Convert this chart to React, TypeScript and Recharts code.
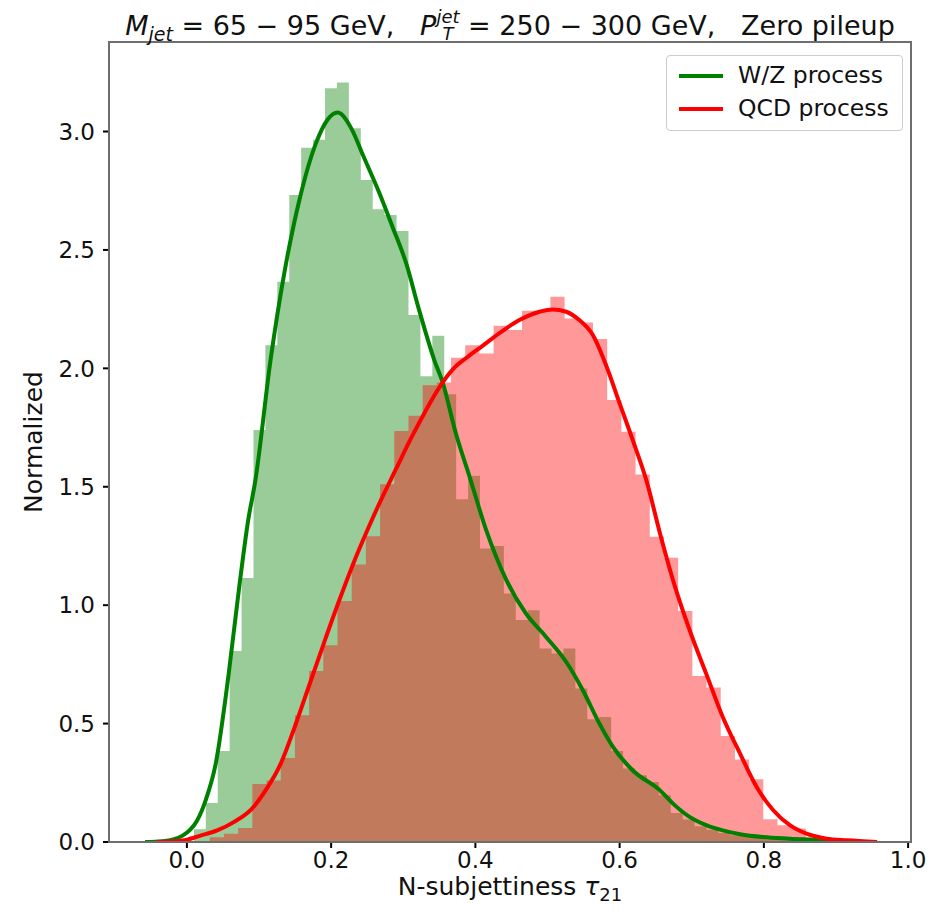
import React from "react";
import { ComposedChart, Area, Line, XAxis, YAxis } from "recharts";

// axis ticks
const xTicks = [0, 0.2, 0.4, 0.6, 0.8, 1.0];
const yTicks = [0, 0.5, 1.0, 1.5, 2.0, 2.5, 3.0];

// W/Z histogram (50 bins)
const wzBinStart = 0.0097;
const wzBinWidth = 0.01653;
const wzHist = [
  0.054, 0.165, 0.384, 0.807, 1.115, 1.74, 2.098, 2.366, 2.732, 2.932,
  2.965, 3.183, 3.207, 3.014, 2.795, 2.672, 2.648, 2.58, 2.225, 1.967,
  2.138, 1.891, 1.447, 1.546, 1.239, 1.25, 1.049, 0.937, 0.979, 0.817,
  0.796, 0.817, 0.648, 0.518, 0.528, 0.384, 0.31, 0.282, 0.253, 0.197,
  0.122, 0.095, 0.066, 0.052, 0.038, 0.028, 0.021, 0.018, 0.012, 0.008,
];

// QCD histogram (44 bins)
const qcdBinStart = 0.0317;
const qcdBinWidth = 0.01968;
const qcdHist = [
  0.02, 0.035, 0.059, 0.245, 0.26, 0.355, 0.535, 0.722, 0.831, 1.018,
  1.172, 1.291, 1.511, 1.735, 1.8, 1.929, 1.94, 2.045, 2.098, 2.063,
  2.18, 2.162, 2.243, 2.243, 2.302, 2.211, 2.194, 2.124, 1.866, 1.732,
  1.552, 1.289, 1.2, 0.975, 0.701, 0.652, 0.448, 0.348, 0.265, 0.096,
  0.071, 0.057, 0.016, 0.005,
];

// KDE curves
const wzKdeX = [
  -0.058, -0.04, -0.02, -0.006, 0.004, 0.014, 0.026, 0.04, 0.058, 0.072,
  0.085, 0.095, 0.116, 0.135, 0.156, 0.179, 0.195, 0.209, 0.229, 0.243,
  0.267, 0.285, 0.304, 0.322, 0.343, 0.355, 0.373, 0.392, 0.415, 0.443,
  0.47, 0.498, 0.526, 0.549, 0.572, 0.591, 0.618, 0.656, 0.674, 0.697,
  0.72, 0.743, 0.767, 0.799, 0.836, 0.882, 0.91,
];
const wzKdeY = [
  0, 0.002, 0.01, 0.027, 0.05, 0.09, 0.176, 0.331, 0.711, 1.063,
  1.359, 1.528, 2.035, 2.401, 2.711, 2.951, 3.05, 3.08, 3.007, 2.908,
  2.739, 2.598, 2.444, 2.246, 2.035, 1.937, 1.725, 1.542, 1.317, 1.106,
  0.965, 0.866, 0.76, 0.641, 0.5, 0.401, 0.303, 0.218, 0.162, 0.106,
  0.071, 0.049, 0.033, 0.021, 0.014, 0.007, 0,
];
const qcdKdeX = [
  -0.042, -0.02, 0.0, 0.018, 0.042, 0.065, 0.09, 0.11, 0.13, 0.15,
  0.17, 0.19, 0.21, 0.23, 0.25, 0.27, 0.29, 0.31, 0.33, 0.35,
  0.37, 0.39, 0.41, 0.433, 0.461, 0.489, 0.507, 0.526, 0.544, 0.563,
  0.582, 0.6, 0.619, 0.637, 0.656, 0.674, 0.697, 0.72, 0.743, 0.767,
  0.79, 0.813, 0.836, 0.859, 0.887, 0.915, 0.957,
];
const qcdKdeY = [
  0, 0.003, 0.01, 0.026, 0.049, 0.084, 0.14, 0.222, 0.33, 0.49,
  0.665, 0.84, 1.01, 1.17, 1.315, 1.45, 1.575, 1.7, 1.815, 1.92,
  2.0, 2.05, 2.095, 2.148, 2.204, 2.239, 2.249, 2.239, 2.204, 2.14,
  2.007, 1.852, 1.69, 1.528, 1.303, 1.106, 0.895, 0.711, 0.528, 0.373,
  0.232, 0.134, 0.071, 0.035, 0.014, 0.007, 0,
];

const GREEN = "#008000";
const RED = "#ff0000";
const FONT = "'DejaVu Sans', sans-serif";

function histSteps(start: number, width: number, heights: number[]) {
  const pts = heights.map((h, i) => ({ x: start + i * width, y: h }));
  pts.push({ x: start + heights.length * width, y: heights[heights.length - 1] });
  return pts;
}

function curve(xs: number[], ys: number[]) {
  return xs.map((x, i) => ({ x, y: ys[i] }));
}

const wzSteps = histSteps(wzBinStart, wzBinWidth, wzHist);
const qcdSteps = histSteps(qcdBinStart, qcdBinWidth, qcdHist);
const wzKde = curve(wzKdeX, wzKdeY);
const qcdKde = curve(qcdKdeX, qcdKdeY);

const W = 930;
const H = 900;
const X_DOMAIN: [number, number] = [-0.108, 1.004];
const Y_DOMAIN: [number, number] = [0, 3.378];
const SPINE = "#6e6e6e";
const spine = { stroke: SPINE, strokeWidth: 2 };
const tickMark = { stroke: "#000", strokeWidth: 2 };
const tickStyle = { fontSize: 23, fill: "#111", fontFamily: FONT };

export default function App() {
  return (
    <div style={{ position: "relative", width: W, height: H, fontFamily: FONT, color: "#111" }}>
      <ComposedChart width={W} height={H} margin={{ top: 34, right: 27, left: 41, bottom: 36 }}>
        <XAxis
          dataKey="x"
          type="number"
          domain={X_DOMAIN}
          ticks={xTicks}
          allowDataOverflow
          height={30}
          tickFormatter={(v: number) => v.toFixed(1)}
          tick={tickStyle}
          tickSize={6}
          tickMargin={4}
          axisLine={spine}
          tickLine={tickMark}
        />
        <YAxis
          type="number"
          domain={Y_DOMAIN}
          ticks={yTicks}
          allowDataOverflow
          width={60}
          tickFormatter={(v: number) => v.toFixed(1)}
          tick={tickStyle}
          tickSize={6}
          tickMargin={8}
          axisLine={spine}
          tickLine={tickMark}
        />
        <Area data={wzSteps} dataKey="y" type="stepAfter" stroke="none" fill={GREEN} fillOpacity={0.4} dot={false} activeDot={false} isAnimationActive={false} />
        <Area data={qcdSteps} dataKey="y" type="stepAfter" stroke="none" fill={RED} fillOpacity={0.4} dot={false} activeDot={false} isAnimationActive={false} />
        <Line data={wzKde} dataKey="y" type="monotone" stroke={GREEN} strokeWidth={4} dot={false} activeDot={false} isAnimationActive={false} />
        <Line data={qcdKde} dataKey="y" type="monotone" stroke={RED} strokeWidth={4} dot={false} activeDot={false} isAnimationActive={false} />
      </ComposedChart>

      {/* axes frame (top and right spines) */}
      <div style={{ position: "absolute", left: 100, top: 33, width: 804, height: 801.7, boxSizing: "border-box", border: `2px solid ${SPINE}`, pointerEvents: "none" }} />

      {/* title */}
      <div style={{ position: "absolute", left: 101, width: 802, top: 3, textAlign: "center", fontSize: 27, lineHeight: "30px", whiteSpace: "pre" }}>
        <i>M</i><sub style={{ fontSize: 19, fontStyle: "italic", lineHeight: 0 }}>jet</sub>
        {" = 65 \u2212 95 GeV,   "}
        <i>P</i>
        <span style={{ display: "inline-flex", flexDirection: "column", verticalAlign: "middle", fontSize: 18, lineHeight: "17px", fontStyle: "italic", marginTop: -6 }}>
          <span>jet</span>
          <span>T</span>
        </span>
        {" = 250 \u2212 300 GeV,   Zero pileup"}
      </div>

      {/* x label */}
      <div style={{ position: "absolute", left: 101, width: 802, top: 865, textAlign: "center", fontSize: 25, lineHeight: "28px", whiteSpace: "pre" }}>
        {"N-subjettiness "}<i>&tau;</i><sub style={{ fontSize: 18, lineHeight: 0 }}>21</sub>
      </div>

      {/* y label */}
      <div style={{ position: "absolute", left: 25, top: 434, transform: "translate(-50%, -50%) rotate(-90deg)", fontSize: 25, whiteSpace: "nowrap" }}>
        Normalized
      </div>

      {/* legend */}
      <div style={{ position: "absolute", left: 658, top: 47, width: 237, height: 76, boxSizing: "border-box", border: "1px solid #ccc", borderRadius: 4, background: "rgba(255,255,255,0.8)", fontSize: 23.5 }}>
        <div style={{ position: "absolute", left: 12, top: 18, width: 44, height: 4, background: GREEN }} />
        <div style={{ position: "absolute", left: 71, top: 5, lineHeight: "28px" }}>W/Z process</div>
        <div style={{ position: "absolute", left: 12, top: 51, width: 44, height: 4, background: RED }} />
        <div style={{ position: "absolute", left: 71, top: 38, lineHeight: "28px" }}>QCD process</div>
      </div>
    </div>
  );
}
